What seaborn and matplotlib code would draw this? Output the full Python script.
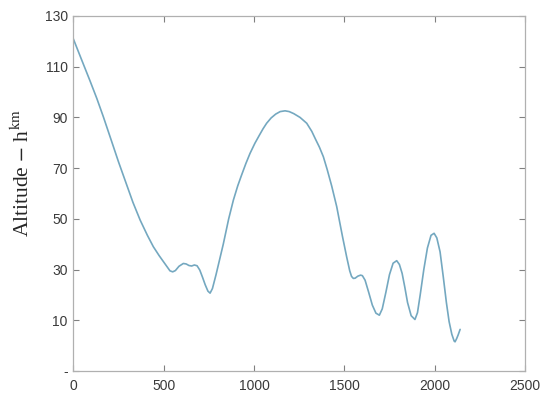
import matplotlib
matplotlib.use("Agg")
import matplotlib.pyplot as plt
import seaborn as sns
import pandas as pd

# Data
x_vals = [0, 40, 92, 130, 166, 210, 250, 290, 330, 370, 410, 443, 475, 500, 520,
          535, 550, 565, 585, 609, 625, 640, 655, 670, 685, 700, 715, 730, 745,
          757, 770, 790, 830, 860, 886, 910, 930, 955, 978, 1005, 1030, 1050,
          1070, 1095, 1120, 1145, 1172, 1195, 1220, 1255, 1292, 1320, 1340, 1362,
          1384, 1405, 1430, 1458, 1475, 1490, 1513, 1530, 1540, 1550, 1560, 1575,
          1590, 1600, 1615, 1635, 1655, 1675, 1694, 1710, 1730, 1750, 1770, 1790,
          1805, 1820, 1835, 1850, 1870, 1891, 1905, 1920, 1940, 1960, 1980, 1997,
          2012, 2030, 2048, 2065, 2080, 2095, 2108, 2113, 2122, 2130, 2141]
altitude = [121, 113.8, 104.5, 97.5, 90.3, 81, 72.5, 64.5, 56.5, 49.5, 43.5, 39, 35.5, 33, 31,
            29.5, 29.1, 29.6, 31.3, 32.4, 32.2, 31.6, 31.4, 31.8, 31.5, 29.8, 27, 24, 21.5,
            20.7, 22.5, 28, 40, 50, 57.4, 63, 67, 71.8, 75.8, 79.8, 83, 85.5,
            87.7, 89.8, 91.3, 92.3, 92.6, 92.3, 91.5, 90, 87.7, 84.5, 81.5, 78.3,
            74.5, 69.5, 63, 54.8, 48.5, 43, 35, 29.5, 27.3, 26.5, 26.6, 27.4,
            27.8, 27.6, 25.8, 21, 16, 12.8, 12, 14.5, 21, 28, 32.5, 33.5,
            32, 28.5, 23, 17, 11.8, 10.3, 13, 20, 30, 38.5, 43.5, 44.3,
            42.5, 37, 27, 17, 9.5, 4.5, 1.8, 1.5, 2.8, 4.2, 6.4]
y_ticks = [-10, 10, 30, 50, 70, 90, 110, 130]
y_tick_labels = ["-", "10", "30", "50", "70", "90", "110", "130"]
x_ticks = [0, 500, 1000, 1500, 2000, 2500]
x_tick_labels = ["0", "500", "1000", "1500", "2000", "2500"]

df = pd.DataFrame({"x": x_vals, "alt": altitude})

sns.set_style("white")
plt.rcParams["font.family"] = ["Liberation Sans", "DejaVu Sans"]

fig = plt.figure(figsize=(5.5, 4.05), dpi=100)
ax = fig.add_axes([0.1333, 0.084, 0.8212, 0.8765])

sns.lineplot(data=df, x="x", y="alt", ax=ax, color="#74a8c0", linewidth=1.2,
             sort=False, estimator=None)

ax.set_xlim(0, 2500)
ax.set_ylim(-10, 130)
ax.set_xticks(x_ticks)
ax.set_xticklabels(x_tick_labels)
ax.set_yticks(y_ticks)
ax.set_yticklabels(y_tick_labels)
ax.set_xlabel("")
ax.set_ylabel(r"Altitude $-$ h$^{\mathrm{km}}$", fontsize=15.5,
              family=["Liberation Serif", "DejaVu Serif"])
ax.yaxis.label.set_math_fontfamily("stix")
ax.yaxis.set_label_coords(-0.087, 0.558)

for s in ax.spines.values():
    s.set_color("#b0b0b0")
    s.set_linewidth(0.9)
    s.set_visible(True)

ax.tick_params(axis="both", direction="in", length=4, width=0.8, color="#808080",
               labelsize=10, labelcolor="#3a3a3a", top=True, right=True,
               bottom=True, left=True)
ax.tick_params(axis="x", pad=6)
ax.tick_params(axis="y", pad=4)

fig.savefig("out.png", dpi=100)
